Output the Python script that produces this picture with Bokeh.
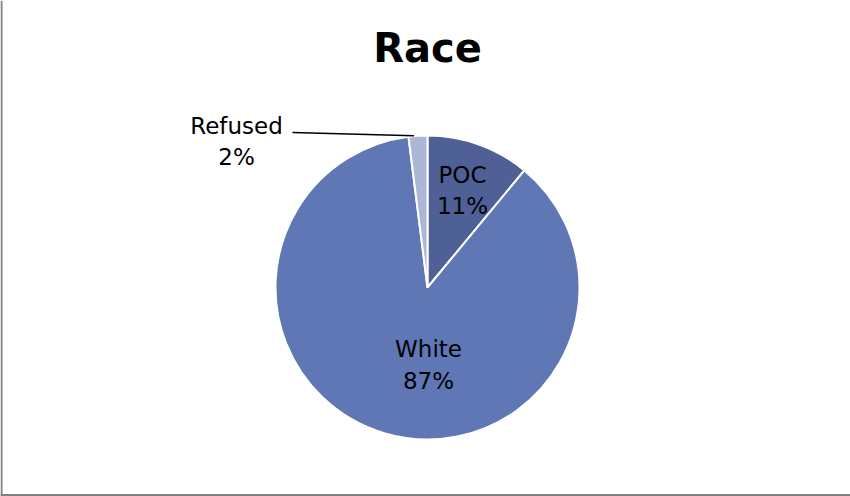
import math
from bokeh.plotting import figure
from bokeh.models import Range1d, Span
from bokeh.core.properties import value
from bokeh.embed import file_html
from bokeh.resources import INLINE

# ---- data ----
categories = ["POC", "White", "Refused"]
percents = [11, 87, 2]
colors = ["#4F6096", "#6077B5", "#AEB6D6"]
title_text = "Race"

W, H = 850, 496
FONT = "DejaVu Sans"

p = figure(width=W, height=H, output_backend="svg", toolbar_location=None,
           x_range=Range1d(0, W), y_range=Range1d(0, H), min_border=0)
p.axis.visible = False
p.grid.visible = False
p.outline_line_color = None
p.background_fill_color = "white"
p.border_fill_color = "white"

cx, cy, R = 427, H - 287, 152
total = sum(percents)
starts, ends = [], []
acc = 0.0
for v in percents:
    a0 = math.pi / 2 - 2 * math.pi * acc / total
    acc += v
    a1 = math.pi / 2 - 2 * math.pi * acc / total
    starts.append(a0)
    ends.append(a1)

p.wedge(x=[cx] * len(percents), y=[cy] * len(percents), radius=R,
        start_angle=starts, end_angle=ends, direction="clock",
        fill_color=colors, line_color="white", line_width=2)

labels = [f"{c}\n{v}%" for c, v in zip(categories, percents)]

# label placement (style): POC & White inside, Refused outside with leader
lx, ly = [], []
mids = [(s + e) / 2 for s, e in zip(starts, ends)]
# POC
lx.append(cx + 0.68 * R * math.cos(mids[0]))
ly.append(cy + 0.68 * R * math.sin(mids[0]))
# White
lx.append(cx + 1)
ly.append(cy - 0.51 * R)
# Refused (outside)
lx.append(236)
ly.append(H - 141)

p.text(x=lx, y=ly, text=labels, text_align="center", text_baseline="middle",
       text_font=value(FONT), text_font_size="23px", text_color="black",
       text_line_height=1.2)

# leader line for Refused
ex = cx + R * math.cos(mids[2])
ey = cy + R * math.sin(mids[2])
p.line(x=[292, ex - 4], y=[H - 132, ey], line_color="black", line_width=1.5)

# title
p.text(x=[cx], y=[H - 47], text=[title_text], text_align="center",
       text_baseline="middle", text_font=value(FONT), text_font_size="40px",
       text_font_style="bold", text_color="black")

# left & bottom border
p.add_layout(Span(location=1, dimension="height", line_color="#808080", line_width=2))
p.add_layout(Span(location=1.5, dimension="width", line_color="#808080", line_width=2))

open("out.html", "w").write(file_html(p, INLINE))
